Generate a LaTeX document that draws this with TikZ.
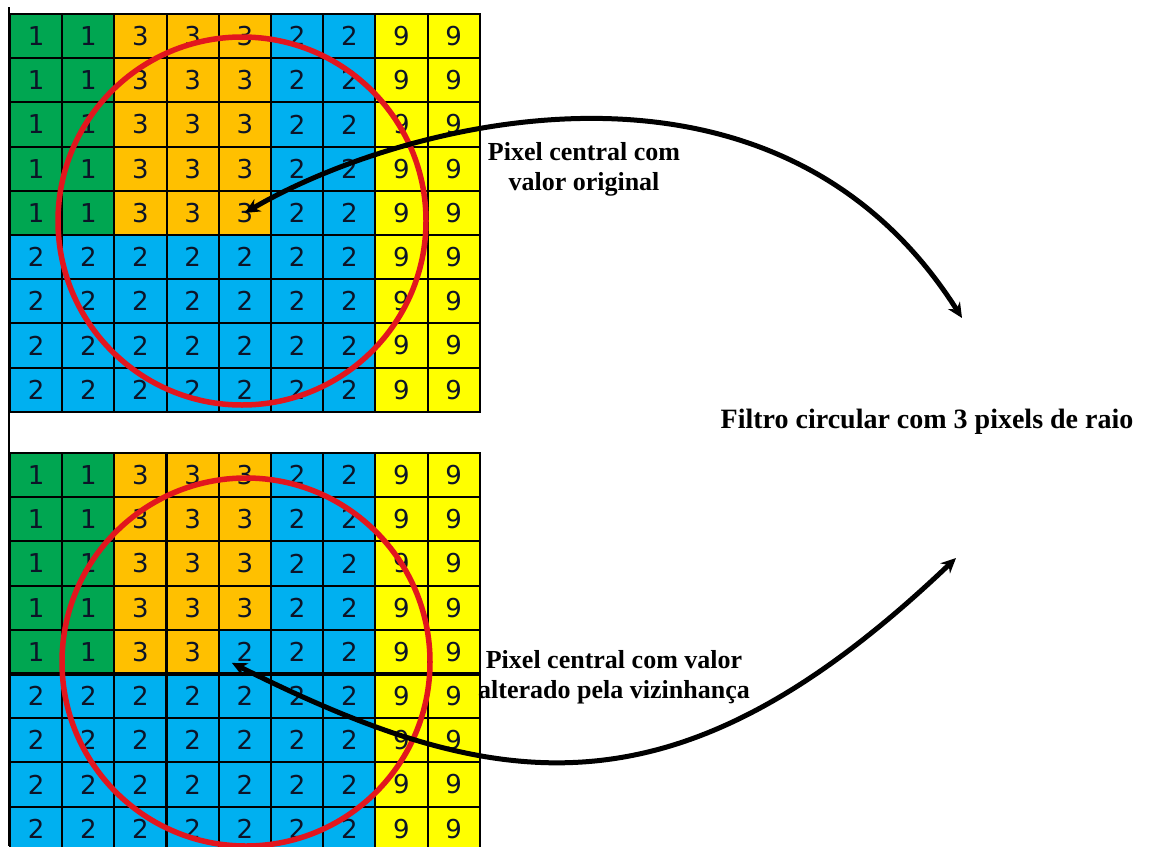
\documentclass[tikz,border=0pt]{standalone}
\usepackage{fontspec}
\setmainfont{Liberation Serif}
\newfontfamily\digfont{DejaVu Sans}
\usetikzlibrary{arrows.meta,calc}
\definecolor{col1}{HTML}{00A651}
\definecolor{col3}{HTML}{FFC000}
\definecolor{col2}{HTML}{00B0F0}
\definecolor{col9}{HTML}{FFFF00}
\definecolor{cred}{HTML}{E2161E}
\definecolor{cdigit}{HTML}{0C1428}
\begin{document}
\begin{tikzpicture}[x=1pt,y=-1pt,
 cell/.style={draw=black, line width=2pt, minimum width=52.2pt, minimum height=44.2pt,
   inner sep=0pt, outer sep=0pt, font=\digfont\fontsize{26}{26}\selectfont, text=cdigit},
 ring/.style={draw=cred, line width=5.5pt},
 link/.style={line width=5pt, {Stealth[length=15pt,width=14pt]}-{Stealth[length=15pt,width=14pt]}},
 lbl/.style={font=\bfseries\fontsize{26}{30}\selectfont, align=center, inner sep=0pt},
 thick grid/.style={line width=3.5pt}]
\useasboundingbox (0,0) rectangle (1150,846);
\fill[white] (0,0) rectangle (1150,846);
\begin{scope}
\clip (0,0) rectangle (1150,846);
% top grid
\foreach \row [count=\r] in {{1,1,3,3,3,2,2,9,9},{1,1,3,3,3,2,2,9,9},{1,1,3,3,3,2,2,9,9},{1,1,3,3,3,2,2,9,9},{1,1,3,3,3,2,2,9,9},{2,2,2,2,2,2,2,9,9},{2,2,2,2,2,2,2,9,9},{2,2,2,2,2,2,2,9,9},{2,2,2,2,2,2,2,9,9}}{
  \foreach \v [count=\c] in \row {
    \node[cell, fill=col\v] (t-\r-\c) at ({10+52.2*(\c-0.5)}, {14+44.2*(\r-0.5)}) {\v};
  }
}
% bottom grid
\foreach \row [count=\r] in {{1,1,3,3,3,2,2,9,9},{1,1,3,3,3,2,2,9,9},{1,1,3,3,3,2,2,9,9},{1,1,3,3,3,2,2,9,9},{1,1,3,3,2,2,2,9,9},{2,2,2,2,2,2,2,9,9},{2,2,2,2,2,2,2,9,9},{2,2,2,2,2,2,2,9,9},{2,2,2,2,2,2,2,9,9}}{
  \foreach \v [count=\c] in \row {
    \node[cell, fill=col\v] (b-\r-\c) at ({10+52.2*(\c-0.5)}, {453+44.2*(\r-0.5)}) {\v};
  }
}
\draw[thick grid] (b-1-4.north west) -- (b-9-4.south west);
\draw[thick grid] (b-6-1.north west) -- (b-6-9.north east);
% left rule
\draw[line width=2pt] (8.5,7) -- (8.5,846);
% circular filters
\draw[ring] (242,221) circle[radius=184pt];
\draw[ring] (246,662) circle[radius=184pt];
% labels
\node[lbl] (lab1) at (584,169) {Pixel central com\\valor original};
\node[lbl] (lab2) at (614,677) {Pixel central com valor\\alterado pela vizinhança};
\node[lbl, font=\bfseries\fontsize{28}{32}\selectfont, anchor=base] (lab3) at (927,428) {Filtro circular com 3 pixels de raio};
% arrows
\coordinate (e1) at (962,318);
\coordinate (s2) at ($(b-5-5.center)+(-13,11)$);
\coordinate (e2) at (956,558);
\draw[link] (t-5-5.center) .. controls +(150,-88) and +(-190,-300) .. (e1);
\draw[link] (s2) .. controls +(268,134) and +(-278,265) .. (e2);
\end{scope}
\end{tikzpicture}
\end{document}
